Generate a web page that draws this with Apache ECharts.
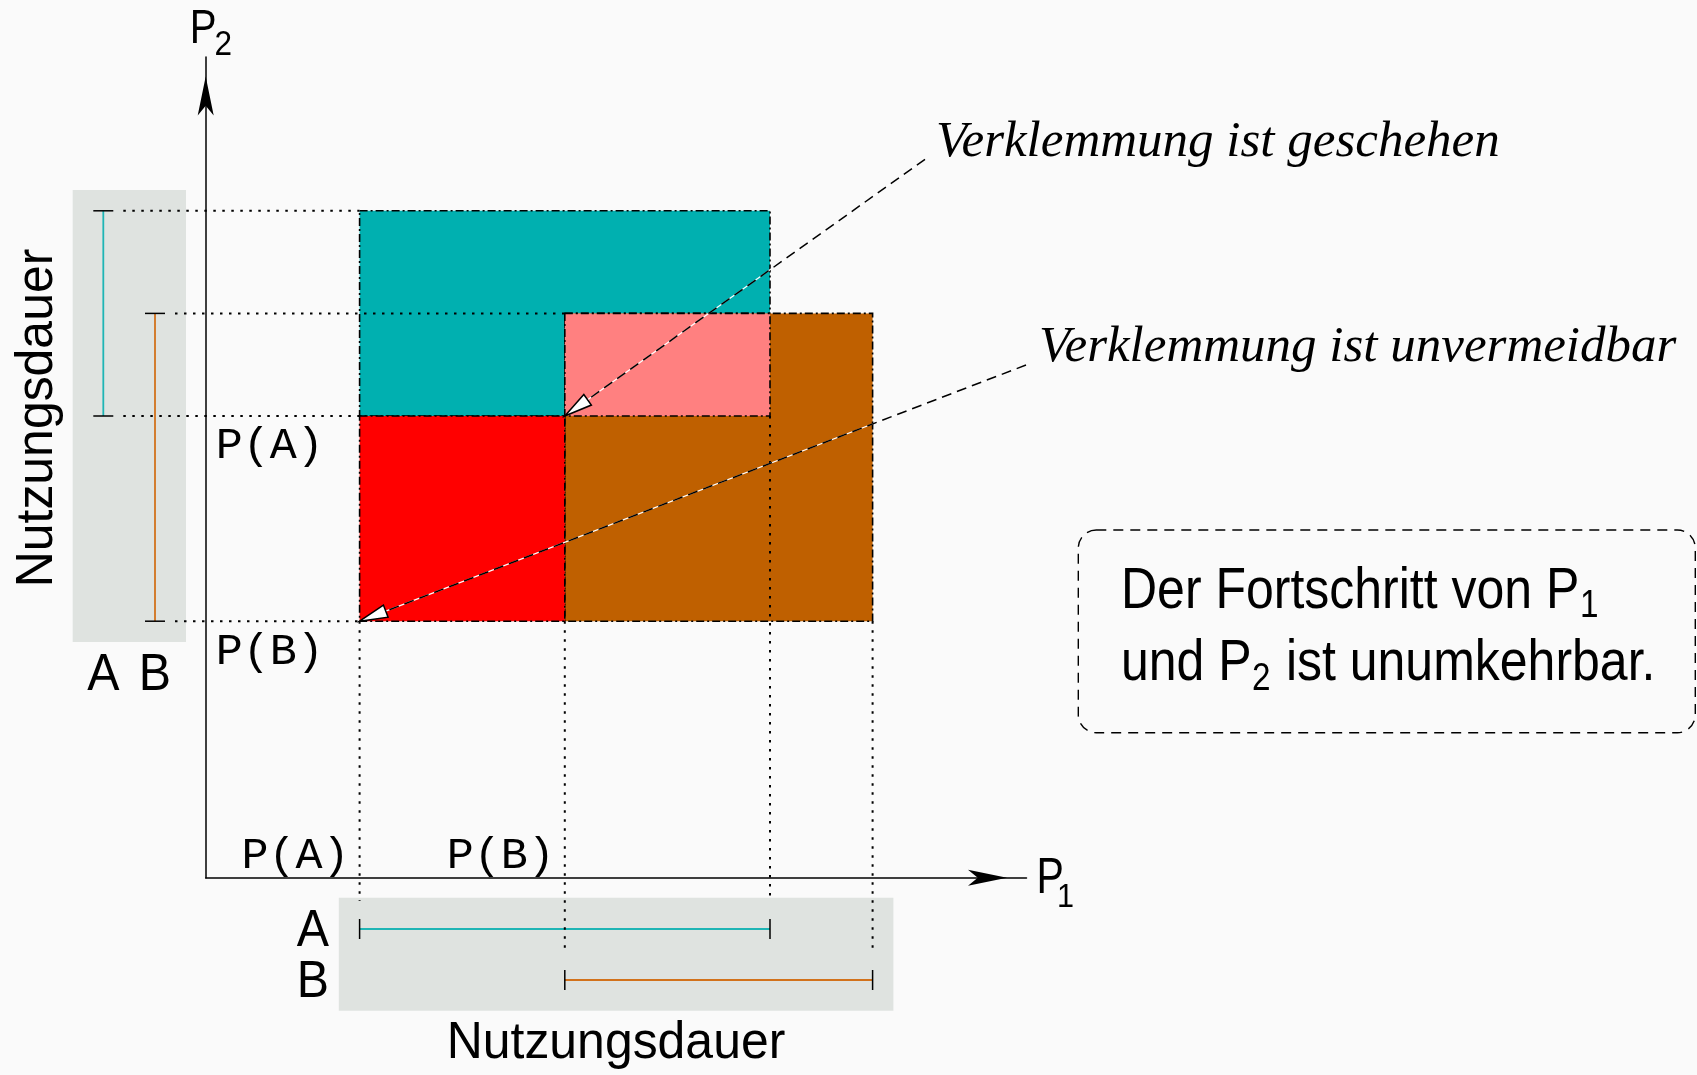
<!DOCTYPE html>
<html>
<head>
<meta charset="utf-8">
<title>Verklemmung</title>
<script src="https://cdn.jsdelivr.net/npm/echarts@6/dist/echarts.min.js"></script>
<style>
  html, body { margin: 0; padding: 0; background: #fafafa; }
  #main { width: 1697px; height: 1075px; }
</style>
</head>
<body>
<div id="main"></div>
<script>
// Betriebsmittel und wann P1 / P2 sie benutzen
const betriebsmittel = ['A', 'B'];
const p1Start = [1.5, 3.5];
const p1Ende = [5.5, 6.5];
const p2Start = [4.5, 2.5];
const p2Ende = [6.5, 5.5];
const achsenMax = 8;
const achsenLabels = ['P(A)', 'P(B)'];
const hinweise = ['Verklemmung ist geschehen', 'Verklemmung ist unvermeidbar'];

// Zonen: A belegt, B belegt, beide, Verklemmung unvermeidbar
const zonen = [
  [p1Start[0], p1Ende[0], p2Start[0], p2Ende[0]],
  [p1Start[1], p1Ende[1], p2Start[1], p2Ende[1]],
  [Math.max(...p1Start), Math.min(...p1Ende), Math.max(...p2Start), Math.min(...p2Ende)],
  [p1Start[0], p1Start[1], p2Start[1], p2Start[0]]
];
// Verklemmungspunkte
const verklemmung = [
  [p1Start[1], p2Start[0]],
  [p1Start[0], p2Start[1]]
];

const zonenFarben = ['#00b0b0', '#bf6000', '#ff8080', '#ff0000'];
const linienFarben = ['#1fb5b5', '#d2721c'];

// layout (pixel)
const ursprungX = 205.7, ursprungY = 877.7, einheit = 102.6;
const panelLinks = { x0: 72.7, x1: 186, linienX: [103.3, 155] };
const panelUnten = { y0: 20, y1: 133, linienY: [51.3, 102.3], labelX: 329 };
const hinweisAnker = [[925, 159.3], [1026, 365]];
const hinweisText = [[936, 143], [1039, 348]];

const sans = '"Liberation Sans", Arial, sans-serif';
const mono = '"Liberation Mono", "Courier New", monospace';
const serif = '"Liberation Serif", "Times New Roman", serif';

const chart = echarts.init(document.getElementById('main'));

function achse() {
  return {
    type: 'value', min: 0, max: achsenMax,
    axisLabel: { show: false }, axisTick: { show: false }, splitLine: { show: false },
    axisLine: {
      show: true, onZero: false,
      symbol: ['none', 'arrow'], symbolSize: [12, 39], symbolOffset: [0, -19.5],
      lineStyle: { color: '#000', width: 1.5 }
    }
  };
}

function txt(x, y, text, font, align, extra) {
  return Object.assign({
    type: 'text', x: x, y: y, silent: true,
    style: { text: text, font: font, fill: '#000', align: align, verticalAlign: 'middle',
      textAlign: align, textVerticalAlign: 'middle' }
  }, extra || {});
}

// graue Felder + Nutzungsintervalle
function nutzung(params, api) {
  const kinder = [];
  const o = api.coord([0, 0]);
  const oben = api.coord([0, Math.max(...p2Ende)])[1];
  const unten = api.coord([0, Math.min(...p2Start)])[1];
  const links = api.coord([Math.min(...p1Start), 0])[0];
  const rechts = api.coord([Math.max(...p1Ende), 0])[0];
  kinder.push({ type: 'rect', shape: { x: panelLinks.x0, y: oben - 20.8, width: panelLinks.x1 - panelLinks.x0, height: unten - oben + 41.6 }, style: { fill: '#dfe3e0' } });
  kinder.push({ type: 'rect', shape: { x: links - 20.8, y: o[1] + panelUnten.y0, width: rechts - links + 41.6, height: panelUnten.y1 - panelUnten.y0 }, style: { fill: '#dfe3e0' } });
  betriebsmittel.forEach(function (b, i) {
    const lx = panelLinks.linienX[i];
    const ya = api.coord([0, p2Start[i]])[1], yb = api.coord([0, p2Ende[i]])[1];
    kinder.push({ type: 'line', shape: { x1: lx, y1: ya, x2: lx, y2: yb }, style: { stroke: linienFarben[i], lineWidth: 1.8 } });
    [ya, yb].forEach(function (y) {
      kinder.push({ type: 'line', shape: { x1: lx - 10, y1: y, x2: lx + 10, y2: y }, style: { stroke: '#000', lineWidth: 1.5 } });
    });
    kinder.push(txt(lx, unten + 54, b, '52px ' + sans, 'center', { scaleX: 0.93 }));

    const ly = o[1] + panelUnten.linienY[i];
    const xa = api.coord([p1Start[i], 0])[0], xb = api.coord([p1Ende[i], 0])[0];
    kinder.push({ type: 'line', shape: { x1: xa, y1: ly, x2: xb, y2: ly }, style: { stroke: linienFarben[i], lineWidth: 1.8 } });
    [xa, xb].forEach(function (x) {
      kinder.push({ type: 'line', shape: { x1: x, y1: ly - 10, x2: x, y2: ly + 10 }, style: { stroke: '#000', lineWidth: 1.5 } });
    });
    kinder.push(txt(panelUnten.labelX, ly + 2.5, b, '52px ' + sans, 'right', { scaleX: 0.93 }));
  });
  return { type: 'group', children: kinder };
}

function zone(params, api) {
  const a = api.coord([api.value(0), api.value(3)]);
  const b = api.coord([api.value(1), api.value(2)]);
  return {
    type: 'rect',
    shape: { x: a[0], y: a[1], width: b[0] - a[0], height: b[1] - a[1] },
    style: { fill: zonenFarben[params.dataIndex], stroke: '#000', lineWidth: 1.6, lineDash: [8, 3, 2, 3] }
  };
}

// gepunktete Hilfslinien
function hilfslinien(params, api) {
  const kinder = [];
  const stil = { stroke: '#000', lineWidth: 2, lineDash: [2.5, 6.5] };
  const minP1 = Math.min(...p1Start), minP2 = Math.min(...p2Start);
  const o = api.coord([0, 0]);
  betriebsmittel.forEach(function (b, i) {
    const xl = panelLinks.linienX[i] + 20;
    [[p2Ende[i], p1Start[i]], [p2Start[i], minP1]].forEach(function (d) {
      const p = api.coord([d[1], d[0]]);
      kinder.push({ type: 'line', shape: { x1: xl, y1: p[1], x2: p[0], y2: p[1] }, style: stil });
    });
    const yu = o[1] + panelUnten.linienY[i] - 28;
    [[p1Ende[i], p2Start[i]], [p1Start[i], minP2]].forEach(function (d) {
      const p = api.coord([d[0], d[1]]);
      kinder.push({ type: 'line', shape: { x1: p[0], y1: p[1], x2: p[0], y2: yu }, style: stil });
    });
  });
  return { type: 'group', children: kinder };
}

function achsenText(params, api) {
  const i = params.dataIndex;
  const px = api.coord([api.value(0), 0]);
  const py = api.coord([0, api.value(1)]);
  return {
    type: 'group', children: [
      txt(px[0] - 10, px[1] - 21.5, achsenLabels[i], '45px ' + mono, 'right'),
      txt(py[0] + 10, py[1] + 30.5, achsenLabels[i], '45px ' + mono, 'left')
    ]
  };
}

function pfeil(params, api) {
  const i = params.dataIndex;
  const ziel = api.coord([api.value(0), api.value(1)]);
  const q = hinweisAnker[i];
  const dx = ziel[0] - q[0], dy = ziel[1] - q[1];
  const len = Math.sqrt(dx * dx + dy * dy);
  const ux = dx / len, uy = dy / len;
  const bx = ziel[0] - ux * 28, by = ziel[1] - uy * 28;
  const nx = -uy, ny = ux;
  return {
    type: 'group', children: [
      { type: 'line', shape: { x1: q[0], y1: q[1], x2: bx, y2: by }, style: { stroke: '#fff', lineWidth: 1.2 } },
      { type: 'line', shape: { x1: q[0], y1: q[1], x2: bx, y2: by }, style: { stroke: '#000', lineWidth: 1.5, lineDash: [10, 6] } },
      { type: 'polygon', shape: { points: [[ziel[0], ziel[1]], [bx + nx * 6.5, by + ny * 6.5], [bx - nx * 6.5, by - ny * 6.5]] },
        style: { fill: '#fff', stroke: '#000', lineWidth: 1.5 } },
      txt(hinweisText[i][0], hinweisText[i][1], hinweise[i], 'italic 51px ' + serif, 'left')
    ]
  };
}

const option = {
  backgroundColor: '#fafafa',
  animation: false,
  grid: { left: ursprungX, top: ursprungY - achsenMax * einheit, width: achsenMax * einheit, height: achsenMax * einheit },
  xAxis: achse(),
  yAxis: achse(),
  series: [
    { name: 'nutzung', type: 'custom', coordinateSystem: 'cartesian2d', clip: false, silent: true, z: 1,
      data: [[0, 0]], renderItem: nutzung },
    { name: 'zonen', type: 'custom', coordinateSystem: 'cartesian2d', clip: false, silent: true, z: 2,
      data: zonen, renderItem: zone },
    { name: 'hilfslinien', type: 'custom', coordinateSystem: 'cartesian2d', clip: false, silent: true, z: 3,
      data: [[0, 0]], renderItem: hilfslinien },
    { name: 'achsen', type: 'custom', coordinateSystem: 'cartesian2d', clip: false, silent: true, z: 4,
      data: betriebsmittel.map(function (b, i) { return [p1Start[i], p2Start[i]]; }), renderItem: achsenText },
    { name: 'verklemmung', type: 'custom', coordinateSystem: 'cartesian2d', clip: false, silent: true, z: 5,
      data: verklemmung, renderItem: pfeil }
  ],
  graphic: {
    elements: [
      txt(189.7, 29.2, 'P', '49px ' + sans, 'left', { scaleX: 0.82 }),
      txt(214.5, 45, '2', '35px ' + sans, 'left', { scaleX: 0.9 }),
      txt(1036.5, 879.5, 'P', '50px ' + sans, 'left', { scaleX: 0.82 }),
      txt(1057, 897.5, '1', '34px ' + sans, 'left', { scaleX: 0.9 }),
      txt(616, 1044, 'Nutzungsdauer', '52px ' + sans, 'center', { scaleX: 0.96 }),
      txt(38, 418, 'Nutzungsdauer', '52px ' + sans, 'center', { scaleX: 0.96, rotation: Math.PI / 2 }),
      { type: 'rect', shape: { x: 1078.3, y: 530, width: 617, height: 202.7, r: 18 },
        style: { fill: 'none', stroke: '#000', lineWidth: 1.4, lineDash: [10, 7] } },
      txt(1121, 592, 'Der Fortschritt von P', '57px ' + sans, 'left', { scaleX: 0.877 }),
      txt(1580, 607, '1', '38px ' + sans, 'left', { scaleX: 0.877 }),
      txt(1121, 664, 'und P', '57px ' + sans, 'left', { scaleX: 0.877 }),
      txt(1252, 680, '2', '38px ' + sans, 'left', { scaleX: 0.877 }),
      txt(1272, 664, ' ist unumkehrbar.', '57px ' + sans, 'left', { scaleX: 0.877 })
    ]
  }
};

chart.setOption(option);
</script>
</body>
</html>
